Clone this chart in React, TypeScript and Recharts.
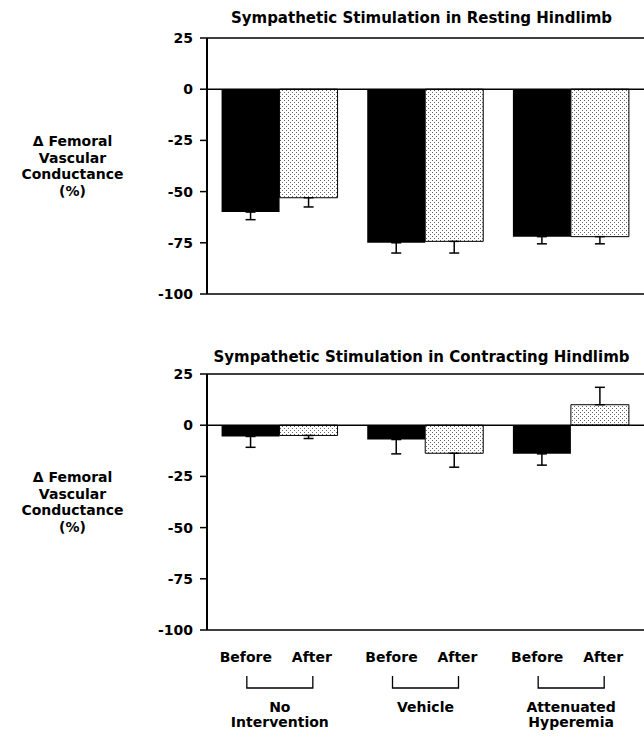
import React from "react";
import {
  BarChart, Bar, XAxis, YAxis, ReferenceLine, ErrorBar,
} from "recharts";

const GROUPS = ["No Intervention", "Vehicle", "Attenuated Hyperemia"];
const GROUP_LINES: Record<string, string[]> = {
  "No Intervention": ["No", "Intervention"],
  "Vehicle": ["Vehicle"],
  "Attenuated Hyperemia": ["Attenuated", "Hyperemia"],
};
const Y_TICKS = [25, 0, -25, -50, -75, -100];

// resting hindlimb
const RESTING_BEFORE = [-60, -75, -72];
const RESTING_BEFORE_ERR = [3.7, 5, 3.5];
const RESTING_AFTER = [-53, -74.3, -72];
const RESTING_AFTER_ERR = [4.5, 5.7, 3.5];

// contracting hindlimb
const CONTRACT_BEFORE = [-5.5, -7, -14];
const CONTRACT_BEFORE_ERR = [5.3, 7, 5.5];
const CONTRACT_AFTER = [-5, -13.7, 10];
const CONTRACT_AFTER_ERR = [1.5, 6.8, 8.5];

const FONT = "'DejaVu Sans', sans-serif";
const W = 644;
const PLOT_H = 256;
const Y_AXIS_W = 207;

// one-sided error bar, pointing away from zero
const away = (v: number, e: number) => (v < 0 ? [e, 0] : [0, e]);

function buildRows(before: number[], beforeErr: number[], after: number[], afterErr: number[]) {
  return GROUPS.map((g, i) => ({
    group: g,
    before: before[i],
    beforeErr: away(before[i], beforeErr[i]),
    after: after[i],
    afterErr: away(after[i], afterErr[i]),
  }));
}

const restingData = buildRows(RESTING_BEFORE, RESTING_BEFORE_ERR, RESTING_AFTER, RESTING_AFTER_ERR);
const contractData = buildRows(CONTRACT_BEFORE, CONTRACT_BEFORE_ERR, CONTRACT_AFTER, CONTRACT_AFTER_ERR);

const tickStyle = { fontSize: 14, fontWeight: 700, fill: "#000", fontFamily: FONT };
const BOTTOM_PLOT = 38 + PLOT_H;

function GroupTick(props: any) {
  const { x, payload } = props;
  const lines = GROUP_LINES[payload.value] ?? [payload.value];
  const y0 = BOTTOM_PLOT;
  const txt = { fontSize: 14, fontWeight: 700, fill: "#000", fontFamily: FONT, textAnchor: "middle" as const };
  return (
    <g>
      <text x={x - 34} y={y0 + 32} {...txt}>Before</text>
      <text x={x + 32} y={y0 + 32} {...txt}>After</text>
      <path d={`M${x - 33},${y0 + 46}V${y0 + 58}H${x + 33}V${y0 + 46}`} fill="none" stroke="#000" strokeWidth={1.3} />
      {lines.map((l, i) => (
        <text key={l} x={x} y={y0 + 82 + i * 15} {...txt}>{l}</text>
      ))}
    </g>
  );
}

function Panel({ data, title, top, titleTop, showGroups }: { data: any[]; title: string; top: number; titleTop: number; showGroups: boolean }) {
  const xAxisH = showGroups ? 110 : 0;
  const height = 38 + PLOT_H + (showGroups ? xAxisH : 16);
  return (
    <div style={{ position: "absolute", left: 0, top, width: W, height }}>
      <div style={{
        position: "absolute", left: Y_AXIS_W - 4, width: W - Y_AXIS_W, top: titleTop, textAlign: "center",
        fontFamily: FONT, fontWeight: 700, fontSize: 15, lineHeight: "18px", whiteSpace: "nowrap",
      }}>{title}</div>
      <div style={{
        position: "absolute", left: 0, width: 145, top: 38 + PLOT_H / 2 - 33, textAlign: "center",
        fontFamily: FONT, fontWeight: 700, fontSize: 14, lineHeight: "16.5px",
      }}>
        <div>Δ Femoral</div>
        <div>Vascular</div>
        <div>Conductance</div>
        <div>(%)</div>
      </div>
      <BarChart
        width={W}
        height={height}
        data={data}
        margin={{ top: 38, right: 0, bottom: showGroups ? 0 : 16, left: 0 }}
        barCategoryGap="10%"
        barGap={0}
      >
        <XAxis
          dataKey="group"
          hide={!showGroups}
          height={xAxisH}
          axisLine={false}
          tickLine={false}
          tick={<GroupTick />}
          interval={0}
        />
        <YAxis
          width={Y_AXIS_W}
          domain={[-100, 25]}
          ticks={Y_TICKS}
          interval={0}
          axisLine={{ stroke: "#000", strokeWidth: 2 }}
          tickLine={{ stroke: "#000", strokeWidth: 1.5 }}
          tickSize={7}
          tickMargin={7}
          tick={tickStyle}
        />
        <ReferenceLine y={25} stroke="#000" strokeWidth={1.5} />
        <ReferenceLine y={0} stroke="#000" strokeWidth={1.5} />
        <ReferenceLine y={-100} stroke="#000" strokeWidth={1.5} />
        <Bar dataKey="before" fill="#000" isAnimationActive={false}>
          <ErrorBar dataKey="beforeErr" direction="y" width={5} stroke="#000" strokeWidth={1.5} />
        </Bar>
        <Bar dataKey="after" fill="url(#stipple)" stroke="#000" strokeWidth={1} isAnimationActive={false}>
          <ErrorBar dataKey="afterErr" direction="y" width={5} stroke="#000" strokeWidth={1.5} />
        </Bar>
      </BarChart>
    </div>
  );
}

export default function App() {
  return (
    <div style={{ position: "absolute", left: 0, top: 0, width: W, height: 739, background: "#fff", overflow: "hidden" }}>
      <svg width={0} height={0} style={{ position: "absolute" }}>
        <defs>
          <pattern id="stipple" width={4} height={4} patternUnits="userSpaceOnUse">
            <rect width={4} height={4} fill="#fff" />
            <rect x={0} y={0} width={1} height={1} fill="#666" />
            <rect x={2} y={2} width={1} height={1} fill="#666" />
          </pattern>
        </defs>
      </svg>
      <Panel data={restingData} title="Sympathetic Stimulation in Resting Hindlimb" top={0} titleTop={9} showGroups={false} />
      <Panel data={contractData} title="Sympathetic Stimulation in Contracting Hindlimb" top={336} titleTop={12} showGroups={true} />
    </div>
  );
}
